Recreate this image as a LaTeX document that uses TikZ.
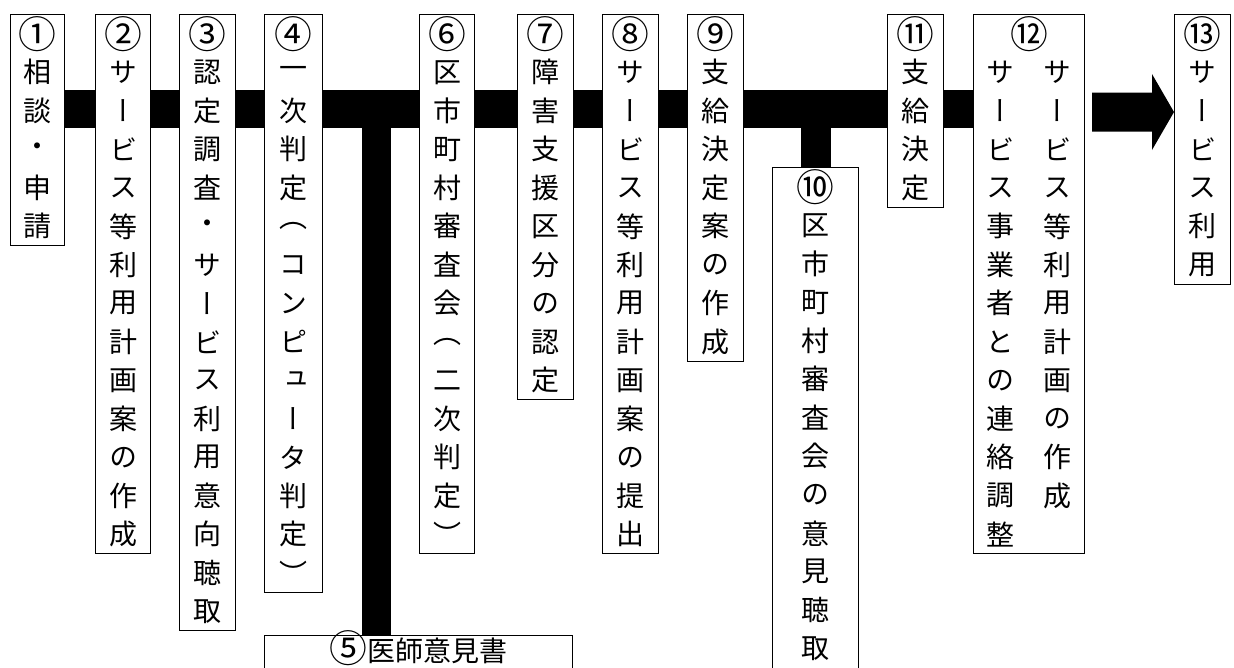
\documentclass[tikz,border=0pt]{standalone}
\usepackage{fontspec}
\newfontfamily\jp[RawFeature={+vert}]{Noto Sans CJK JP}
\usetikzlibrary{calc,backgrounds}
\newcommand\cellbox[1]{\hbox to 40pt{\hss\vbox to 38.5pt{\vss\hbox{#1}\vss}\hss}}
\def\vtloop#1{\ifx\relax#1\else\cellbox{#1}\expandafter\vtloop\fi}
\newcommand\vt[1]{\vbox{\offinterlineskip\vtloop#1\relax}}
\newcommand\vtcol[1]{\vtop{\offinterlineskip\vtloop#1\relax}}
\newcommand\bigc[1]{\scalebox{1.35}{#1}}
\tikzset{
  box/.style={draw, line width=1.1pt, fill=white, inner sep=0pt, anchor=north west,
    font=\jp\fontsize{28pt}{38.5pt}\selectfont},
  conn/.style={fill=black}
}
\begin{document}
\begin{tikzpicture}[x=1pt,y=-1pt]
\useasboundingbox (0,0) rectangle (1234,667);
\node[box, minimum width=54pt] (n1) at (10,14) {\vt{{\bigc{①}}相談・申請}};
\node[box, minimum width=55pt] (n2) at (95,14) {\vt{{\bigc{②}}サービス等利用計画案の作成}};
\node[box, minimum width=56pt] (n3) at (179,14) {\vt{{\bigc{③}}認定調査・サービス利用意向聴取}};
\node[box, minimum width=58pt] (n4) at (264,14) {\vt{{\bigc{④}}一次判定（コンピュータ判定）}};
\node[box, minimum width=55pt] (n6) at (419,14) {\vt{{\bigc{⑥}}区市町村審査会（二次判定）}};
\node[box, minimum width=56pt] (n7) at (517,14) {\vt{{\bigc{⑦}}障害支援区分の認定}};
\node[box, minimum width=56pt] (n8) at (602,14) {\vt{{\bigc{⑧}}サービス等利用計画案の提出}};
\node[box, minimum width=56pt] (n9) at (687,14) {\vt{{\bigc{⑨}}支給決定案の作成}};
\node[box, minimum width=86pt] (n10) at (772,167) {\vbox to 520pt{\vt{{\bigc{⑩}}区市町村審査会の意見聴取}\vss}};
\node[box, minimum width=56pt] (n11) at (887,14) {\vt{{\bigc{⑪}}支給決定}};
\node[box, minimum width=111pt] (n12) at (973,14) {\vbox{\offinterlineskip
  \hbox to 111pt{\hss\cellbox{\bigc{⑫}}\hss}
  \hbox to 111pt{\hss\vtcol{サービス事業者との連絡調整}\hskip17pt\vtcol{サービス等利用計画の作成}\hss}}};
\node[box, minimum width=56pt] (n13) at (1174,14) {\vt{{\bigc{⑬}}サービス利用}};
\node[box, minimum width=308pt] (n5) at (264,635) {\vbox to 50pt{\vskip-4pt\hbox to 308pt{\hss\vbox to 38.5pt{\vss\hbox{\raisebox{-1pt}{\smash{\bigc{⑤}}}医師意見書}\vss}\hss}\vss}};
\begin{scope}[on background layer]
\fill[conn] ($(n1.north east)+(0,76)$) rectangle ($(n12.north west)+(0,114)$);
\fill[conn] ($(n5.north west)+(98,0)$) rectangle ($(n5.north west)+(127,-507)$);
\fill[conn] ($(n10.north)+(-15,0)$) rectangle ($(n10.north)+(15,-39)$);
\end{scope}
\coordinate (tip) at ($(n13.north west)+(0,98)$);
\coordinate (tail) at ($(n12.north east)+(7,98)$);
\fill[conn] ($(tail)+(0,-19.5)$) -- ($(tip)+(-22,-19.5)$) -- ($(tip)+(-22,-38)$) -- (tip)
  -- ($(tip)+(-22,38)$) -- ($(tip)+(-22,19.5)$) -- ($(tail)+(0,19.5)$) -- cycle;
\end{tikzpicture}
\end{document}
